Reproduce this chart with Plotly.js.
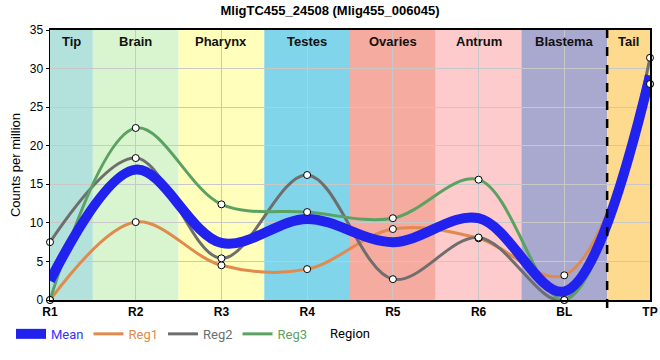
<!DOCTYPE html>
<html><head><meta charset="utf-8">
<script src="https://cdn.plot.ly/plotly-3.0.1.min.js"></script>
<style>html,body{margin:0;padding:0;background:#fff}#chart{width:660px;height:360px}</style>
</head><body><div id="chart"></div>
<script>
const categories = ["R1","R2","R3","R4","R5","R6","BL","TP"];
const meanVals = [2.5, 16.9, 7.4, 10.5, 7.5, 10.6, 1.1, 29.1];
const reg1Vals = [0, 10.1, 4.5, 4.0, 9.2, 8.0, 3.2, 28.0];
const reg2Vals = [7.5, 18.4, 5.4, 16.2, 2.7, 8.1, 0, 31.4];
const reg3Vals = [0, 22.3, 12.4, 11.4, 10.6, 15.6, 0, 28.0];
const regionNames = ["Tip","Brain","Pharynx","Testes","Ovaries","Antrum","Blastema","Tail"];
const regionStarts = [0, 0.5, 1.5, 2.5, 3.5, 4.5, 5.5, 6.5];
const regionEnds = [0.5, 1.5, 2.5, 3.5, 4.5, 5.5, 6.5, 7];
const regionColors = ["#b3e2dd","#d8f5d0","#ffffbb","#80d5eb","#f5ab9f","#fdcbcb","#a9a8cf","#fdda8d"];

const xs = categories.map((c,i)=>i);
const regs = [
  {name:"Reg1", vals:reg1Vals, color:"#e08a4d"},
  {name:"Reg2", vals:reg2Vals, color:"#6e6e6e"},
  {name:"Reg3", vals:reg3Vals, color:"#5ba262"}
];
const traces = [];
regs.forEach((r,i)=>{
  traces.push({x:xs, y:r.vals, mode:"lines", type:"scatter", legendrank:i+2,
    name:'<span style="color:'+r.color+'">'+r.name+'</span>',
    line:{color:r.color, width:3, shape:"spline", smoothing:1}});
});
traces.push({x:xs, y:meanVals, mode:"lines", type:"scatter", legendrank:1,
  name:'<span style="color:#3333ff">Mean</span>',
  line:{color:"#2222ee", width:10, shape:"spline", smoothing:1}});
regs.forEach(r=>{
  traces.push({x:xs, y:r.vals, mode:"markers", type:"scatter", showlegend:false,
    marker:{color:"white", size:7, line:{color:"black", width:1}}, cliponaxis:false});
});

const shapes = [];
const annotations = [];
regionNames.forEach((n,i)=>{
  shapes.push({type:"rect", xref:"x", yref:"paper", x0:regionStarts[i], x1:regionEnds[i], y0:0, y1:1,
    fillcolor:regionColors[i], line:{width:0}, layer:"below"});
  annotations.push({x:(regionStarts[i]+regionEnds[i])/2, y:1, xref:"x", yref:"paper", yanchor:"top", yshift:-2,
    text:"<b>"+n+"</b>", showarrow:false, font:{size:13, color:"#111", family:"Liberation Sans, Arial, sans-serif"}});
});
shapes.push({type:"line", xref:"x", yref:"paper", x0:6.5, x1:6.5, y0:-0.03, y1:1,
  line:{color:"black", width:2.5, dash:"dash"}, layer:"above"});

const layout = {
  width:660, height:360,
  margin:{l:50, r:10, t:30, b:60},
  paper_bgcolor:"white", plot_bgcolor:"white",
  title:{text:"<b>MligTC455_24508 (Mlig455_006045)</b>", x:0.5, xanchor:"center", y:0.985, yanchor:"top",
    font:{size:13, color:"#000", family:"Liberation Sans, Arial, sans-serif"}},
  font:{family:"Liberation Sans, Arial, sans-serif", color:"#000"},
  xaxis:{range:[0,7], tickvals:xs, ticktext:categories.map(c=>"<b>"+c+"</b>"),
    showgrid:true, gridcolor:"#c8c8c8", gridwidth:1, layer:"above traces",
    showline:true, linecolor:"black", linewidth:2, mirror:true, zeroline:false,
    ticks:"", tickfont:{size:12, color:"#000"},
    title:{text:"Region", font:{size:13, color:"#000", family:"Roboto, sans-serif"}, standoff:10}},
  yaxis:{range:[0,35], dtick:5, showgrid:true, gridcolor:"#c8c8c8", gridwidth:1,
    showline:true, linecolor:"black", linewidth:1.5, mirror:true, zeroline:false,
    ticks:"outside", ticklen:3, tickcolor:"black", tickfont:{size:12, color:"#000"},
    title:{text:"Counts per million", font:{size:13, color:"#000"}, standoff:6}},
  showlegend:true,
  legend:{orientation:"h", x:-0.065, y:-0.07, xanchor:"left", yanchor:"top",
    font:{size:13, family:"Roboto, sans-serif"}, bgcolor:"rgba(0,0,0,0)",
    itemwidth:30, tracegroupgap:0},
  shapes:shapes, annotations:annotations
};
Plotly.newPlot("chart", traces, layout, {displayModeBar:false, staticPlot:true});
</script></body></html>
